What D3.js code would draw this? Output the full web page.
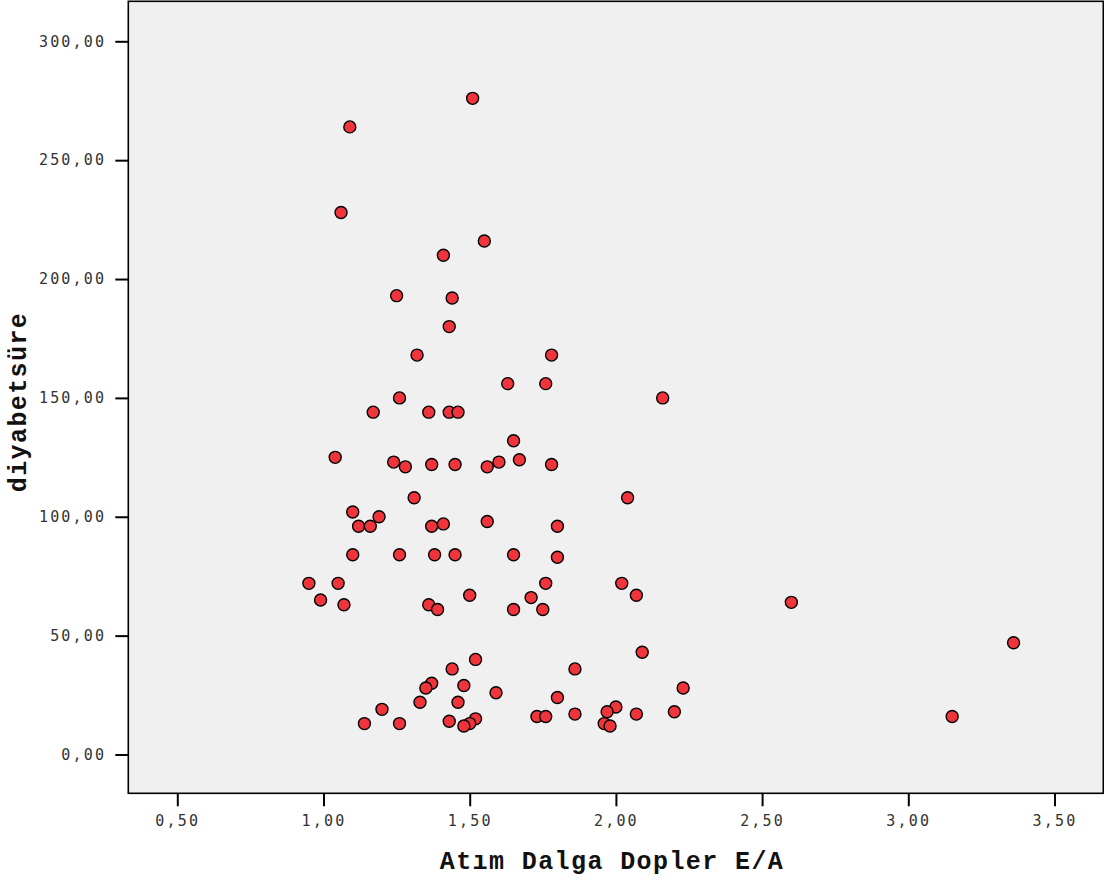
<!DOCTYPE html>
<html><head><meta charset="utf-8">
<script src="https://cdn.jsdelivr.net/npm/d3@7"></script>
<style>
html,body{margin:0;padding:0;background:#fff;}
svg{display:block;}
</style></head>
<body>
<svg id="chart" width="1104" height="881"></svg>
<script>
const xTitle = "Atım Dalga Dopler E/A";
const yTitle = "diyabetsüre";
const xTicks = [0.5, 1.0, 1.5, 2.0, 2.5, 3.0, 3.5];
const yTicks = [0, 50, 100, 150, 200, 250, 300];
const eaValues = [1.51,1.09,1.06,1.55,1.41,1.25,1.44,1.43,1.32,1.78,1.63,1.76,2.16,1.26,1.17,1.36,1.43,1.46,1.65,1.04,
  1.24,1.28,1.37,1.45,1.56,1.60,1.67,1.78,2.04,1.31,1.10,1.19,1.12,1.16,1.37,1.41,1.56,1.80,1.10,1.26,
  1.38,1.45,1.65,1.80,0.95,1.05,1.76,2.02,0.99,1.07,1.36,1.39,1.50,1.71,1.65,1.75,2.07,2.60,3.15,3.36,
  2.09,1.52,1.44,1.86,1.37,1.35,1.48,1.59,1.80,1.33,1.46,2.23,1.20,2.00,1.97,2.20,1.86,2.07,1.14,1.26,
  1.43,1.52,1.50,1.48,1.73,1.76,1.96,1.98];
const durationValues = [276,264,228,216,210,193,192,180,168,168,156,156,150,150,144,144,144,144,132,125,
  123,121,122,122,121,123,124,122,108,108,102,100,96,96,96,97,98,96,84,84,
  84,84,84,83,72,72,72,72,65,63,63,61,67,66,61,61,67,64,16,47,
  43,40,36,36,30,28,29,26,24,22,22,28,19,20,18,18,17,17,13,13,
  14,15,13,12,16,16,13,12];

const svg = d3.select("#chart");
const fmt = v => v.toFixed(2).replace(".", ",");

const x = d3.scaleLinear().domain([0.5, 3.5]).range([177.3, 1054.5]);
const y = d3.scaleLinear().domain([0, 300]).range([754.5, 41.3]);
const pLeft = 128.3, pRight = 1103.3, pTop = 1.3, pBottom = 793.3;

svg.append("rect").attr("x", pLeft).attr("y", pTop)
  .attr("width", pRight - pLeft).attr("height", pBottom - pTop)
  .attr("fill", "#f0f0f0").attr("stroke", "#000").attr("stroke-width", 1.6);

const xAxis = svg.append("g").attr("transform", `translate(0,${pBottom})`)
  .call(d3.axisBottom(x).tickValues(xTicks).tickFormat(fmt).tickSize(13).tickPadding(9));
const yAxis = svg.append("g").attr("transform", `translate(${pLeft},0)`)
  .call(d3.axisLeft(y).tickValues(yTicks).tickFormat(fmt).tickSize(13).tickPadding(9));
[xAxis, yAxis].forEach(a => {
  a.select(".domain").remove();
  a.selectAll(".tick line").attr("stroke", "#000").attr("stroke-width", 2);
  a.selectAll(".tick text").attr("fill", "#333")
    .style("font-family", "'DejaVu Sans Mono', monospace")
    .style("font-size", "15px").style("letter-spacing", "2.2px");
});

svg.append("g").selectAll("circle").data(eaValues).join("circle")
  .attr("cx", (d) => x(d))
  .attr("cy", (d, i) => y(durationValues[i]))
  .attr("r", 6)
  .attr("fill", "#f0343c").attr("stroke", "#000").attr("stroke-width", 1.4);

svg.append("text").text(xTitle)
  .attr("x", 612).attr("y", 869).attr("text-anchor", "middle")
  .style("font-family", "'Liberation Mono', 'Courier New', monospace")
  .style("font-weight", "bold").style("font-size", "25px").style("letter-spacing", "1.4px")
  .attr("fill", "#111");

svg.append("text").text(yTitle)
  .attr("transform", "translate(26,402) rotate(-90)").attr("text-anchor", "middle")
  .style("font-family", "'Liberation Mono', 'Courier New', monospace")
  .style("font-weight", "bold").style("font-size", "25px").style("letter-spacing", "1.4px")
  .attr("fill", "#111");
</script>
</body></html>
